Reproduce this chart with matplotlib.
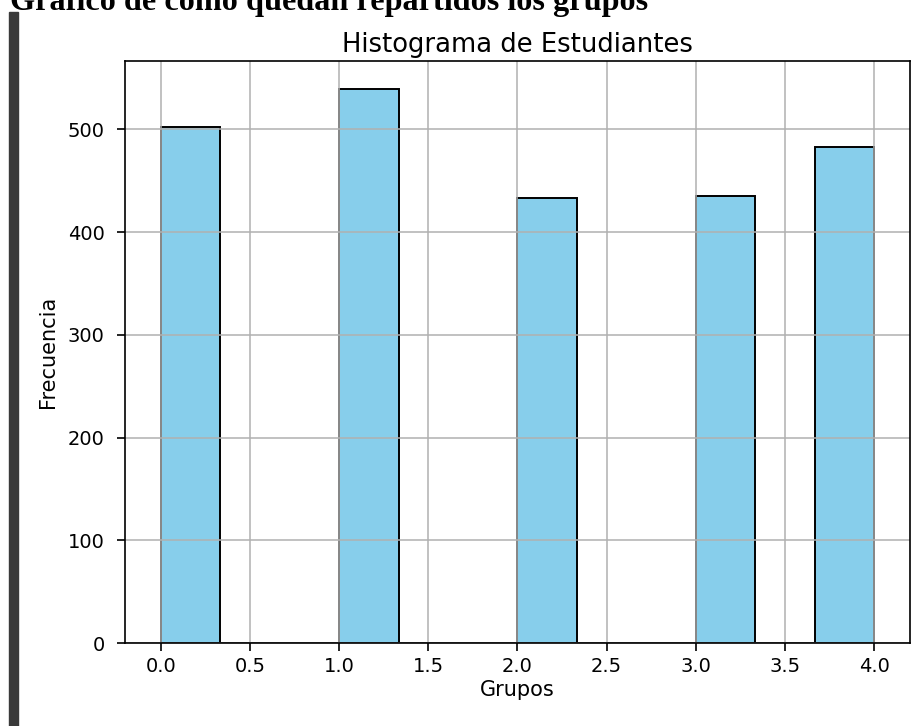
import matplotlib
matplotlib.use("Agg")
import matplotlib.pyplot as plt
from matplotlib.patches import Rectangle

# grupos y cuantos estudiantes hay en cada uno
grupos = [0, 1, 2, 3, 4]
frecuencias = [502, 539, 433, 435, 483]

titulo_pagina = "Gráfico de cómo quedan repartidos los grupos"

fig = plt.figure(figsize=(9.21, 7.26), dpi=100)

# encabezado de la pagina (cortado arriba) y barra lateral
fig.text(10 / 921, 1 - 10 / 726, titulo_pagina, fontsize=23.2, fontweight="bold",
         family="Liberation Serif", va="baseline", ha="left")
fig.patches.append(Rectangle((9 / 921, 0), 9 / 921, 1 - 12 / 726,
                             transform=fig.transFigure, color="#3a3a3a"))

ax = fig.add_axes([0.1357, 0.1143, 0.988 - 0.1357, 0.9153 - 0.1143])
ax.hist(grupos, bins=12, weights=frecuencias, color="skyblue",
        edgecolor="black", linewidth=1.4)
ax.set_title("Histograma de Estudiantes", fontsize=18.6, pad=6.5)
ax.set_xlabel("Grupos", fontsize=15, labelpad=3)
ax.set_ylabel("Frecuencia", fontsize=15, labelpad=7)
ax.tick_params(labelsize=14, width=1.2, length=5.5)
ax.tick_params(axis="x", pad=4.5)
ax.tick_params(axis="y", pad=9)
for s in ax.spines.values():
    s.set_linewidth(1.2)
ax.grid(True, linewidth=1.1)

fig.savefig("out.png", dpi=100)
